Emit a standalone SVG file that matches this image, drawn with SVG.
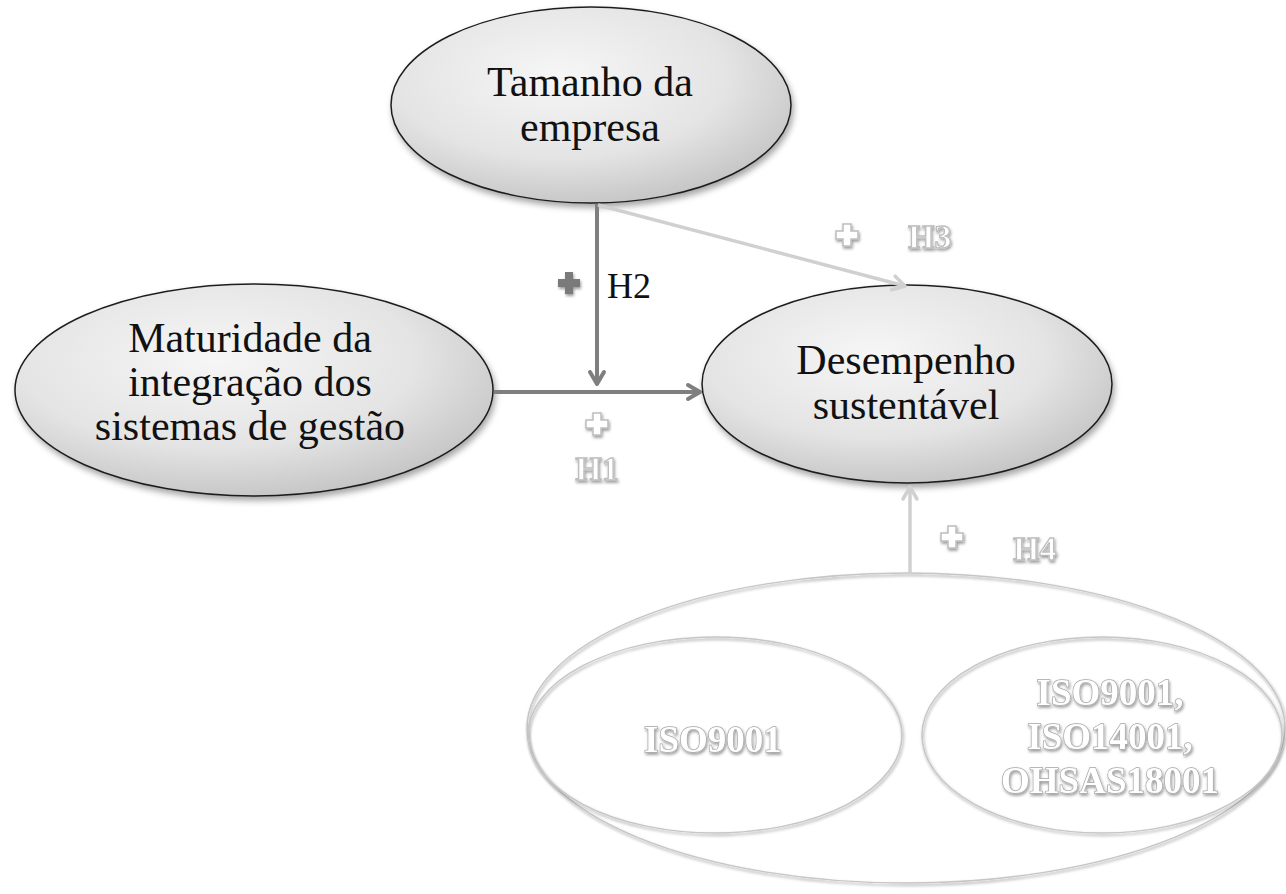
<svg xmlns="http://www.w3.org/2000/svg" xmlns:xlink="http://www.w3.org/1999/xlink" width="1286" height="894" viewBox="0 0 1286 894">
<defs>
<radialGradient id="g" cx="0.42" cy="0.35" r="0.7">
<stop offset="0" stop-color="#f6f6f6"/>
<stop offset="0.6" stop-color="#e4e4e4"/>
<stop offset="1" stop-color="#c2c2c2"/>
</radialGradient>
<filter id="sh" x="-10%" y="-10%" width="125%" height="130%">
<feDropShadow dx="2" dy="4" stdDeviation="3" flood-color="#000" flood-opacity="0.35"/>
</filter>
<filter id="tsh" x="-10%" y="-20%" width="125%" height="150%">
<feDropShadow dx="1" dy="2" stdDeviation="1.5" flood-color="#000" flood-opacity="0.4"/>
</filter>
<marker id="ad" viewBox="0 0 20 20" refX="17" refY="10" markerWidth="20" markerHeight="20" markerUnits="userSpaceOnUse" orient="auto">
<path d="M5,3 L17,10 L5,17" fill="none" stroke="#7f7f7f" stroke-width="4" stroke-linecap="round" stroke-linejoin="round"/>
</marker>
<marker id="al" viewBox="0 0 20 20" refX="17" refY="10" markerWidth="20" markerHeight="20" markerUnits="userSpaceOnUse" orient="auto">
<path d="M5,3 L17,10 L5,17" fill="none" stroke="#d0d0d0" stroke-width="3.5" stroke-linecap="round" stroke-linejoin="round"/>
</marker>
<path id="plus" d="M-4,-11 H4 V-4 H11 V4 H4 V11 H-4 V4 H-11 V-4 H-4 Z"/>
</defs>
<style>
.node{fill:url(#g);stroke:#1e1e1e;stroke-width:1.5;filter:url(#sh)}
.iso{fill:none;stroke:#c6c6c6;stroke-width:1.5;filter:url(#tsh)}
.t{font-family:"Liberation Serif","Times New Roman",serif;font-size:42px;fill:#111;text-anchor:middle}
.it{font-family:"Liberation Serif","Times New Roman",serif;font-size:37px;font-weight:bold;fill:#fff;stroke:#a6a6a6;stroke-width:1.4;paint-order:stroke;text-anchor:middle;filter:url(#tsh)}
.hl{font-family:"Liberation Serif","Times New Roman",serif;font-size:34px;font-weight:bold;fill:#fff;stroke:#bdbdbd;stroke-width:1.3;filter:url(#tsh)}
.hd{font-family:"Liberation Serif","Times New Roman",serif;font-size:36px;fill:#111}
.pd{fill:#7a7a7a;filter:url(#tsh)}
.pl{fill:#fff;stroke:#bdbdbd;stroke-width:1.5;filter:url(#tsh)}
.cd{stroke:#7f7f7f;stroke-width:4;fill:none;marker-end:url(#ad)}
.cl{stroke:#d0d0d0;stroke-width:3.5;fill:none;marker-end:url(#al)}
</style>
<rect width="1286" height="894" fill="#fff"/>

<g id="node-isogroup">
<ellipse class="iso" cx="906" cy="728" rx="379" ry="155"/>
</g>
<g id="node-iso9001">
<ellipse class="iso" cx="715" cy="735" rx="187" ry="98"/>
<text class="it" x="713" y="752">ISO9001</text>
</g>
<g id="node-iso-all">
<ellipse class="iso" cx="1102" cy="735" rx="180" ry="98"/>
<text class="it" x="1110" y="705">ISO9001,</text>
<text class="it" x="1110" y="749">ISO14001,</text>
<text class="it" x="1110" y="793">OHSAS18001</text>
</g>

<g id="node-tamanho">
<ellipse class="node" cx="591" cy="105" rx="200" ry="98"/>
<text class="t" x="590" y="96">Tamanho da</text>
<text class="t" x="590" y="141">empresa</text>
</g>
<g id="node-maturidade">
<ellipse class="node" cx="254" cy="390" rx="239" ry="106"/>
<text class="t" x="250" y="352">Maturidade da</text>
<text class="t" x="250" y="396">integração dos</text>
<text class="t" x="250" y="440">sistemas de gestão</text>
</g>
<g id="node-desempenho">
<ellipse class="node" cx="907" cy="384" rx="205" ry="99"/>
<text class="t" x="906" y="374">Desempenho</text>
<text class="t" x="906" y="419">sustentável</text>
</g>

<g id="connectors">
<line class="cd" x1="597" y1="204" x2="597" y2="384"/>
<line class="cd" x1="494" y1="392" x2="700" y2="392"/>
<line class="cl" x1="598" y1="205" x2="905" y2="286"/>
<line class="cl" x1="910" y1="574" x2="910" y2="487"/>
</g>

<g id="labels">
<use href="#plus" class="pd" transform="translate(569,283)"/>
<text class="hd" x="607" y="298">H2</text>
<use href="#plus" class="pl" transform="translate(847,235)"/>
<text class="hl" x="908" y="248">H3</text>
<use href="#plus" class="pl" transform="translate(597,424)"/>
<text class="hl" x="597" y="480" text-anchor="middle">H1</text>
<use href="#plus" class="pl" transform="translate(952,537)"/>
<text class="hl" x="1013" y="560">H4</text>
</g>
</svg>
